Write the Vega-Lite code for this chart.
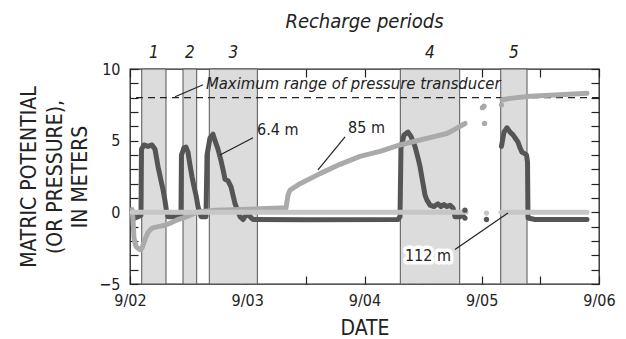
{
  "$schema": "https://vega.github.io/schema/vega-lite/v6.json",
  "width": 469,
  "height": 215,
  "autosize": {"type": "none"},
  "padding": {"left": 130, "top": 69, "right": 27, "bottom": 55},
  "background": "white",
  "config": {
    "font": "Liberation Sans Narrow, DejaVu Sans Condensed, sans-serif",
    "view": {"stroke": "#222", "strokeWidth": 1.3},
    "axis": {
      "grid": false,
      "domain": false,
      "tickColor": "#222",
      "tickWidth": 1.2,
      "labelColor": "#222",
      "titleColor": "#222",
      "labelFontSize": 16,
      "titleFontSize": 21,
      "titleFontWeight": "normal",
      "labelFlush": false
    }
  },
  "datasets": {
    "regions": [
      {"n": "1", "start": "2000-09-02T02:24Z", "end": "2000-09-02T07:22Z", "mid": "2000-09-02T04:53Z"},
      {"n": "2", "start": "2000-09-02T10:51Z", "end": "2000-09-02T13:39Z", "mid": "2000-09-02T12:15Z"},
      {"n": "3", "start": "2000-09-02T16:14Z", "end": "2000-09-03T02:04Z", "mid": "2000-09-02T21:09Z"},
      {"n": "4", "start": "2000-09-04T07:20Z", "end": "2000-09-04T19:29Z", "mid": "2000-09-04T13:24Z"},
      {"n": "5", "start": "2000-09-05T03:53Z", "end": "2000-09-05T09:16Z", "mid": "2000-09-05T06:34Z"}
    ],
    "obs": [
      {"depth": "6.4 m", "seg": 1, "t": "2000-09-02T00:25Z", "v": 0.1},
      {"depth": "6.4 m", "seg": 1, "t": "2000-09-02T01:01Z", "v": -0.4},
      {"depth": "6.4 m", "seg": 1, "t": "2000-09-02T01:38Z", "v": -0.3},
      {"depth": "6.4 m", "seg": 1, "t": "2000-09-02T02:15Z", "v": -0.2},
      {"depth": "6.4 m", "seg": 1, "t": "2000-09-02T02:21Z", "v": 4.4},
      {"depth": "6.4 m", "seg": 1, "t": "2000-09-02T02:52Z", "v": 4.7},
      {"depth": "6.4 m", "seg": 1, "t": "2000-09-02T03:41Z", "v": 4.6},
      {"depth": "6.4 m", "seg": 1, "t": "2000-09-02T04:30Z", "v": 4.7},
      {"depth": "6.4 m", "seg": 1, "t": "2000-09-02T05:07Z", "v": 4.4},
      {"depth": "6.4 m", "seg": 1, "t": "2000-09-02T05:44Z", "v": 3.2},
      {"depth": "6.4 m", "seg": 1, "t": "2000-09-02T06:21Z", "v": 2.2},
      {"depth": "6.4 m", "seg": 1, "t": "2000-09-02T06:45Z", "v": 1.6},
      {"depth": "6.4 m", "seg": 1, "t": "2000-09-02T07:10Z", "v": 0.8},
      {"depth": "6.4 m", "seg": 1, "t": "2000-09-02T07:28Z", "v": 0.1},
      {"depth": "6.4 m", "seg": 1, "t": "2000-09-02T07:47Z", "v": -0.3},
      {"depth": "6.4 m", "seg": 1, "t": "2000-09-02T09:50Z", "v": -0.3},
      {"depth": "6.4 m", "seg": 1, "t": "2000-09-02T10:26Z", "v": -0.2},
      {"depth": "6.4 m", "seg": 1, "t": "2000-09-02T10:32Z", "v": 4.0},
      {"depth": "6.4 m", "seg": 1, "t": "2000-09-02T11:03Z", "v": 4.5},
      {"depth": "6.4 m", "seg": 1, "t": "2000-09-02T11:28Z", "v": 4.55},
      {"depth": "6.4 m", "seg": 1, "t": "2000-09-02T11:52Z", "v": 4.2},
      {"depth": "6.4 m", "seg": 1, "t": "2000-09-02T12:17Z", "v": 3.3},
      {"depth": "6.4 m", "seg": 1, "t": "2000-09-02T12:41Z", "v": 2.5},
      {"depth": "6.4 m", "seg": 1, "t": "2000-09-02T13:06Z", "v": 1.8},
      {"depth": "6.4 m", "seg": 1, "t": "2000-09-02T13:34Z", "v": 1.1},
      {"depth": "6.4 m", "seg": 1, "t": "2000-09-02T13:55Z", "v": 0.4},
      {"depth": "6.4 m", "seg": 1, "t": "2000-09-02T14:16Z", "v": 0.0},
      {"depth": "6.4 m", "seg": 1, "t": "2000-09-02T14:32Z", "v": -0.3},
      {"depth": "6.4 m", "seg": 1, "t": "2000-09-02T15:33Z", "v": -0.3},
      {"depth": "6.4 m", "seg": 1, "t": "2000-09-02T15:46Z", "v": 4.0},
      {"depth": "6.4 m", "seg": 1, "t": "2000-09-02T16:23Z", "v": 5.2},
      {"depth": "6.4 m", "seg": 1, "t": "2000-09-02T16:59Z", "v": 5.45},
      {"depth": "6.4 m", "seg": 1, "t": "2000-09-02T17:24Z", "v": 5.0},
      {"depth": "6.4 m", "seg": 1, "t": "2000-09-02T18:01Z", "v": 4.4},
      {"depth": "6.4 m", "seg": 1, "t": "2000-09-02T18:38Z", "v": 3.6},
      {"depth": "6.4 m", "seg": 1, "t": "2000-09-02T19:02Z", "v": 3.0},
      {"depth": "6.4 m", "seg": 1, "t": "2000-09-02T19:27Z", "v": 2.3},
      {"depth": "6.4 m", "seg": 1, "t": "2000-09-02T20:04Z", "v": 2.2},
      {"depth": "6.4 m", "seg": 1, "t": "2000-09-02T20:40Z", "v": 1.8},
      {"depth": "6.4 m", "seg": 1, "t": "2000-09-02T21:05Z", "v": 1.2},
      {"depth": "6.4 m", "seg": 1, "t": "2000-09-02T21:30Z", "v": 0.6},
      {"depth": "6.4 m", "seg": 1, "t": "2000-09-02T22:06Z", "v": 0.05},
      {"depth": "6.4 m", "seg": 1, "t": "2000-09-02T22:31Z", "v": -0.3},
      {"depth": "6.4 m", "seg": 1, "t": "2000-09-02T23:08Z", "v": -0.5},
      {"depth": "6.4 m", "seg": 1, "t": "2000-09-02T23:32Z", "v": -0.3},
      {"depth": "6.4 m", "seg": 1, "t": "2000-09-03T00:09Z", "v": -0.1},
      {"depth": "6.4 m", "seg": 1, "t": "2000-09-03T00:34Z", "v": -0.3},
      {"depth": "6.4 m", "seg": 1, "t": "2000-09-03T01:11Z", "v": -0.5},
      {"depth": "6.4 m", "seg": 1, "t": "2000-09-03T12:00Z", "v": -0.52},
      {"depth": "6.4 m", "seg": 1, "t": "2000-09-04T06:52Z", "v": -0.5},
      {"depth": "6.4 m", "seg": 1, "t": "2000-09-04T07:16Z", "v": -0.3},
      {"depth": "6.4 m", "seg": 1, "t": "2000-09-04T07:28Z", "v": 4.5},
      {"depth": "6.4 m", "seg": 1, "t": "2000-09-04T08:05Z", "v": 5.4},
      {"depth": "6.4 m", "seg": 1, "t": "2000-09-04T08:54Z", "v": 5.6},
      {"depth": "6.4 m", "seg": 1, "t": "2000-09-04T09:31Z", "v": 5.3},
      {"depth": "6.4 m", "seg": 1, "t": "2000-09-04T10:20Z", "v": 4.6},
      {"depth": "6.4 m", "seg": 1, "t": "2000-09-04T10:57Z", "v": 3.8},
      {"depth": "6.4 m", "seg": 1, "t": "2000-09-04T11:22Z", "v": 3.2},
      {"depth": "6.4 m", "seg": 1, "t": "2000-09-04T11:46Z", "v": 2.4},
      {"depth": "6.4 m", "seg": 1, "t": "2000-09-04T12:05Z", "v": 1.8},
      {"depth": "6.4 m", "seg": 1, "t": "2000-09-04T12:23Z", "v": 1.2},
      {"depth": "6.4 m", "seg": 1, "t": "2000-09-04T12:47Z", "v": 0.85},
      {"depth": "6.4 m", "seg": 1, "t": "2000-09-04T13:25Z", "v": 0.5},
      {"depth": "6.4 m", "seg": 1, "t": "2000-09-04T14:14Z", "v": 0.4},
      {"depth": "6.4 m", "seg": 1, "t": "2000-09-04T15:02Z", "v": 0.6},
      {"depth": "6.4 m", "seg": 1, "t": "2000-09-04T15:40Z", "v": 0.4},
      {"depth": "6.4 m", "seg": 1, "t": "2000-09-04T16:16Z", "v": 0.55},
      {"depth": "6.4 m", "seg": 1, "t": "2000-09-04T16:53Z", "v": 0.4},
      {"depth": "6.4 m", "seg": 1, "t": "2000-09-04T17:30Z", "v": 0.5},
      {"depth": "6.4 m", "seg": 1, "t": "2000-09-04T18:07Z", "v": 0.3},
      {"depth": "6.4 m", "seg": 1, "t": "2000-09-04T18:31Z", "v": -0.3},
      {"depth": "6.4 m", "seg": 1, "t": "2000-09-04T19:33Z", "v": -0.3},
      {"depth": "6.4 m", "seg": 1, "t": "2000-09-04T20:10Z", "v": -0.2},
      {"depth": "6.4 m", "seg": 2, "t": "2000-09-05T04:02Z", "v": 4.6},
      {"depth": "6.4 m", "seg": 2, "t": "2000-09-05T04:33Z", "v": 5.6},
      {"depth": "6.4 m", "seg": 2, "t": "2000-09-05T05:10Z", "v": 5.9},
      {"depth": "6.4 m", "seg": 2, "t": "2000-09-05T05:47Z", "v": 5.6},
      {"depth": "6.4 m", "seg": 2, "t": "2000-09-05T06:24Z", "v": 5.4},
      {"depth": "6.4 m", "seg": 2, "t": "2000-09-05T07:01Z", "v": 5.1},
      {"depth": "6.4 m", "seg": 2, "t": "2000-09-05T07:25Z", "v": 4.9},
      {"depth": "6.4 m", "seg": 2, "t": "2000-09-05T07:50Z", "v": 4.5},
      {"depth": "6.4 m", "seg": 2, "t": "2000-09-05T08:14Z", "v": 4.2},
      {"depth": "6.4 m", "seg": 2, "t": "2000-09-05T08:45Z", "v": 4.1},
      {"depth": "6.4 m", "seg": 2, "t": "2000-09-05T09:10Z", "v": 4.0},
      {"depth": "6.4 m", "seg": 2, "t": "2000-09-05T09:22Z", "v": 3.5},
      {"depth": "6.4 m", "seg": 2, "t": "2000-09-05T09:28Z", "v": -0.4},
      {"depth": "6.4 m", "seg": 2, "t": "2000-09-05T10:54Z", "v": -0.5},
      {"depth": "6.4 m", "seg": 2, "t": "2000-09-05T21:33Z", "v": -0.5},

      {"depth": "85 m", "seg": 1, "t": "2000-09-02T00:25Z", "v": 0.2},
      {"depth": "85 m", "seg": 1, "t": "2000-09-02T00:37Z", "v": -0.5},
      {"depth": "85 m", "seg": 1, "t": "2000-09-02T00:49Z", "v": -1.8},
      {"depth": "85 m", "seg": 1, "t": "2000-09-02T01:14Z", "v": -2.4},
      {"depth": "85 m", "seg": 1, "t": "2000-09-02T02:03Z", "v": -2.6},
      {"depth": "85 m", "seg": 1, "t": "2000-09-02T02:27Z", "v": -2.5},
      {"depth": "85 m", "seg": 1, "t": "2000-09-02T03:04Z", "v": -1.9},
      {"depth": "85 m", "seg": 1, "t": "2000-09-02T03:41Z", "v": -1.4},
      {"depth": "85 m", "seg": 1, "t": "2000-09-02T04:30Z", "v": -1.1},
      {"depth": "85 m", "seg": 1, "t": "2000-09-02T05:44Z", "v": -1.0},
      {"depth": "85 m", "seg": 1, "t": "2000-09-02T07:10Z", "v": -0.9},
      {"depth": "85 m", "seg": 1, "t": "2000-09-02T08:36Z", "v": -0.7},
      {"depth": "85 m", "seg": 1, "t": "2000-09-02T09:50Z", "v": -0.5},
      {"depth": "85 m", "seg": 1, "t": "2000-09-02T11:15Z", "v": -0.35},
      {"depth": "85 m", "seg": 1, "t": "2000-09-02T12:41Z", "v": -0.15},
      {"depth": "85 m", "seg": 1, "t": "2000-09-02T14:20Z", "v": 0.05},
      {"depth": "85 m", "seg": 1, "t": "2000-09-02T17:24Z", "v": 0.15},
      {"depth": "85 m", "seg": 1, "t": "2000-09-02T22:31Z", "v": 0.2},
      {"depth": "85 m", "seg": 1, "t": "2000-09-03T02:37Z", "v": 0.25},
      {"depth": "85 m", "seg": 1, "t": "2000-09-03T06:42Z", "v": 0.3},
      {"depth": "85 m", "seg": 1, "t": "2000-09-03T07:56Z", "v": 0.3},
      {"depth": "85 m", "seg": 1, "t": "2000-09-03T08:20Z", "v": 1.2},
      {"depth": "85 m", "seg": 1, "t": "2000-09-03T08:45Z", "v": 1.55},
      {"depth": "85 m", "seg": 1, "t": "2000-09-03T10:48Z", "v": 2.0},
      {"depth": "85 m", "seg": 1, "t": "2000-09-03T14:53Z", "v": 2.7},
      {"depth": "85 m", "seg": 1, "t": "2000-09-03T18:59Z", "v": 3.35},
      {"depth": "85 m", "seg": 1, "t": "2000-09-03T23:05Z", "v": 3.9},
      {"depth": "85 m", "seg": 1, "t": "2000-09-04T03:10Z", "v": 4.25},
      {"depth": "85 m", "seg": 1, "t": "2000-09-04T07:16Z", "v": 4.7},
      {"depth": "85 m", "seg": 1, "t": "2000-09-04T11:22Z", "v": 5.05},
      {"depth": "85 m", "seg": 1, "t": "2000-09-04T14:26Z", "v": 5.3},
      {"depth": "85 m", "seg": 1, "t": "2000-09-04T16:53Z", "v": 5.5},
      {"depth": "85 m", "seg": 1, "t": "2000-09-04T18:31Z", "v": 5.8},
      {"depth": "85 m", "seg": 1, "t": "2000-09-04T19:33Z", "v": 6.0},
      {"depth": "85 m", "seg": 1, "t": "2000-09-04T20:34Z", "v": 6.2},
      {"depth": "85 m", "seg": 2, "t": "2000-09-05T04:09Z", "v": 7.85},
      {"depth": "85 m", "seg": 2, "t": "2000-09-05T05:47Z", "v": 7.95},
      {"depth": "85 m", "seg": 2, "t": "2000-09-05T09:53Z", "v": 8.1},
      {"depth": "85 m", "seg": 2, "t": "2000-09-05T16:01Z", "v": 8.2},
      {"depth": "85 m", "seg": 2, "t": "2000-09-05T21:33Z", "v": 8.3},

      {"depth": "112 m", "seg": 1, "t": "2000-09-02T00:25Z", "v": 0.0},
      {"depth": "112 m", "seg": 1, "t": "2000-09-04T20:47Z", "v": 0.0},
      {"depth": "112 m", "seg": 2, "t": "2000-09-05T03:56Z", "v": 0.0},
      {"depth": "112 m", "seg": 2, "t": "2000-09-05T21:33Z", "v": 0.0}
    ],
    "dots": [
      {"depth": "6.4 m", "t": "2000-09-04T20:34Z", "v": 0.15},
      {"depth": "6.4 m", "t": "2000-09-04T20:34Z", "v": -0.4},
      {"depth": "6.4 m", "t": "2000-09-05T00:58Z", "v": -0.5},
      {"depth": "85 m", "t": "2000-09-05T00:09Z", "v": 7.3},
      {"depth": "85 m", "t": "2000-09-05T00:28Z", "v": 7.4},
      {"depth": "85 m", "t": "2000-09-05T00:34Z", "v": 6.2},
      {"depth": "85 m", "t": "2000-09-05T04:02Z", "v": 7.5},
      {"depth": "112 m", "t": "2000-09-05T00:58Z", "v": -0.05}
    ],
    "leaders": [
      {"t1": "2000-09-02T09:13Z", "v1": 8.06, "t2": "2000-09-02T14:57Z", "v2": 8.9},
      {"t1": "2000-09-02T18:25Z", "v1": 4.0, "t2": "2000-09-03T01:11Z", "v2": 5.2},
      {"t1": "2000-09-03T14:29Z", "v1": 2.97, "t2": "2000-09-03T20:01Z", "v2": 5.27},
      {"t1": "2000-09-04T18:31Z", "v1": -2.6, "t2": "2000-09-05T05:22Z", "v2": -0.05}
    ],
    "notes": [
      {"t": "2000-09-02T15:33Z", "v": 8.95, "label": "Maximum range of pressure transducer", "kind": "range"},
      {"t": "2000-09-03T02:00Z", "v": 5.76, "label": "6.4 m", "kind": "depth"},
      {"t": "2000-09-03T20:38Z", "v": 5.9, "label": "85 m", "kind": "depth"},
      {"t": "2000-09-04T08:17Z", "v": -3.04, "label": "112 m", "kind": "depth"}
    ],
    "heading": [
      {"t": "2000-09-04T00:00Z", "v": 13.3, "label": "Recharge periods"}
    ]
  },
  "layer": [
    {
      "data": {"name": "regions"},
      "mark": {"type": "rect", "fill": "#dcdcdc", "stroke": "#555", "strokeWidth": 1},
      "encoding": {
        "x": {
          "field": "start",
          "type": "temporal",
          "scale": {
            "type": "utc",
            "domain": [
              {"year": 2000, "month": 9, "date": 2, "utc": true},
              {"year": 2000, "month": 9, "date": 6, "utc": true}
            ]
          },
          "axis": {
            "orient": "bottom",
            "title": "DATE",
            "values": [
              {"year": 2000, "month": 9, "date": 2, "hours": 0, "utc": true},
              {"year": 2000, "month": 9, "date": 2, "hours": 12, "utc": true},
              {"year": 2000, "month": 9, "date": 3, "hours": 0, "utc": true},
              {"year": 2000, "month": 9, "date": 3, "hours": 12, "utc": true},
              {"year": 2000, "month": 9, "date": 4, "hours": 0, "utc": true},
              {"year": 2000, "month": 9, "date": 4, "hours": 12, "utc": true},
              {"year": 2000, "month": 9, "date": 5, "hours": 0, "utc": true},
              {"year": 2000, "month": 9, "date": 5, "hours": 12, "utc": true},
              {"year": 2000, "month": 9, "date": 6, "hours": 0, "utc": true}
            ],
            "labelExpr": "utchours(datum.value) == 0 ? utcFormat(datum.value, '%-m/%d') : ''",
            "offset": -8,
            "tickSize": 8,
            "labelPadding": 8,
            "titlePadding": 9
          }
        },
        "x2": {"field": "end"}
      }
    },
    {
      "data": {"name": "regions"},
      "mark": {"type": "text", "fontSize": 17, "fontStyle": "italic", "color": "#222", "baseline": "middle"},
      "encoding": {
        "x": {
          "field": "mid",
          "type": "temporal",
          "axis": {
            "orient": "top",
            "title": null,
            "labels": false,
            "values": [
              {"year": 2000, "month": 9, "date": 2, "hours": 0, "utc": true},
              {"year": 2000, "month": 9, "date": 2, "hours": 12, "utc": true},
              {"year": 2000, "month": 9, "date": 3, "hours": 0, "utc": true},
              {"year": 2000, "month": 9, "date": 3, "hours": 12, "utc": true},
              {"year": 2000, "month": 9, "date": 4, "hours": 0, "utc": true},
              {"year": 2000, "month": 9, "date": 4, "hours": 12, "utc": true},
              {"year": 2000, "month": 9, "date": 5, "hours": 0, "utc": true},
              {"year": 2000, "month": 9, "date": 5, "hours": 12, "utc": true},
              {"year": 2000, "month": 9, "date": 6, "hours": 0, "utc": true}
            ],
            "offset": -8,
            "tickSize": 8
          }
        },
        "y": {"datum": 11.1, "type": "quantitative", "axis": null},
        "text": {"field": "n"}
      }
    },
    {
      "data": {"values": [{}]},
      "mark": {"type": "rule", "color": "#222", "strokeWidth": 1.2, "strokeDash": [7, 5]},
      "encoding": {"y": {"datum": 8, "type": "quantitative", "axis": null}}
    },
    {
      "data": {"name": "obs"},
      "transform": [{"filter": "datum.depth == '6.4 m'"}],
      "mark": {"type": "line", "color": "#555", "strokeWidth": 5, "strokeJoin": "round", "strokeCap": "round"},
      "encoding": {
        "x": {"field": "t", "type": "temporal", "axis": null},
        "y": {
          "field": "v",
          "type": "quantitative",
          "scale": {"domain": [-5, 10], "nice": false, "zero": false},
          "axis": {
            "orient": "left",
            "values": [-5, -4, -3, -2, -1, 0, 1, 2, 3, 4, 5, 6, 7, 8, 9, 10],
            "labelExpr": "datum.value % 5 == 0 ? datum.label : ''",
            "offset": -8,
            "tickSize": 8,
            "labelPadding": 10,
            "title": ["MATRIC POTENTIAL", "(OR PRESSURE),", "IN METERS"],
            "titleLineHeight": 25.5,
            "titlePadding": 8
          }
        },
        "detail": {"field": "seg"}
      }
    },
    {
      "data": {"name": "obs"},
      "transform": [{"filter": "datum.depth == '85 m'"}],
      "mark": {"type": "line", "color": "#aaaaaa", "strokeWidth": 5, "strokeJoin": "round", "strokeCap": "round"},
      "encoding": {
        "x": {"field": "t", "type": "temporal", "axis": null},
        "y": {
          "field": "v",
          "type": "quantitative",
          "axis": {
            "orient": "right",
            "values": [-5, -4, -3, -2, -1, 0, 1, 2, 3, 4, 5, 6, 7, 8, 9, 10],
            "labels": false,
            "title": null,
            "offset": -8,
            "tickSize": 8
          }
        },
        "detail": {"field": "seg"}
      }
    },
    {
      "data": {"name": "obs"},
      "transform": [{"filter": "datum.depth == '112 m'"}],
      "mark": {"type": "line", "color": "#c6c6c6", "strokeWidth": 5, "strokeCap": "round"},
      "encoding": {
        "x": {"field": "t", "type": "temporal", "axis": null},
        "y": {"field": "v", "type": "quantitative", "axis": null},
        "detail": {"field": "seg"}
      }
    },
    {
      "data": {"name": "dots"},
      "mark": {"type": "circle", "size": 28, "opacity": 1},
      "encoding": {
        "x": {"field": "t", "type": "temporal", "axis": null},
        "y": {"field": "v", "type": "quantitative", "axis": null},
        "color": {
          "field": "depth",
          "type": "nominal",
          "scale": {"domain": ["6.4 m", "85 m", "112 m"], "range": ["#555555", "#aaaaaa", "#c6c6c6"]},
          "legend": null
        }
      }
    },
    {
      "data": {"name": "leaders"},
      "mark": {"type": "rule", "color": "#222", "strokeWidth": 1.2},
      "encoding": {
        "x": {"field": "t1", "type": "temporal", "axis": null},
        "y": {"field": "v1", "type": "quantitative", "axis": null},
        "x2": {"field": "t2"},
        "y2": {"field": "v2"}
      }
    },
    {
      "data": {"name": "notes"},
      "transform": [{"filter": "datum.label == '112 m'"}],
      "mark": {"type": "text", "fontSize": 16, "align": "left", "baseline": "middle", "stroke": "white", "strokeWidth": 7, "strokeJoin": "round", "fill": "white"},
      "encoding": {
        "x": {"field": "t", "type": "temporal", "axis": null},
        "y": {"field": "v", "type": "quantitative", "axis": null},
        "text": {"field": "label"}
      }
    },
    {
      "data": {"name": "notes"},
      "transform": [{"filter": "datum.kind == 'depth'"}],
      "mark": {"type": "text", "fontSize": 16, "align": "left", "baseline": "middle", "color": "#222"},
      "encoding": {
        "x": {"field": "t", "type": "temporal", "axis": null},
        "y": {"field": "v", "type": "quantitative", "axis": null},
        "text": {"field": "label"}
      }
    },
    {
      "data": {"name": "notes"},
      "transform": [{"filter": "datum.kind == 'range'"}],
      "mark": {"type": "text", "fontSize": 16.5, "fontStyle": "italic", "align": "left", "baseline": "middle", "color": "#222"},
      "encoding": {
        "x": {"field": "t", "type": "temporal", "axis": null},
        "y": {"field": "v", "type": "quantitative", "axis": null},
        "text": {"field": "label"}
      }
    },
    {
      "data": {"name": "heading"},
      "mark": {"type": "text", "fontSize": 20, "fontStyle": "italic", "color": "#222", "baseline": "middle"},
      "encoding": {
        "x": {"field": "t", "type": "temporal", "axis": null},
        "y": {"field": "v", "type": "quantitative", "axis": null},
        "text": {"field": "label"}
      }
    }
  ],
  "resolve": {"axis": {"x": "independent", "y": "independent"}}
}
